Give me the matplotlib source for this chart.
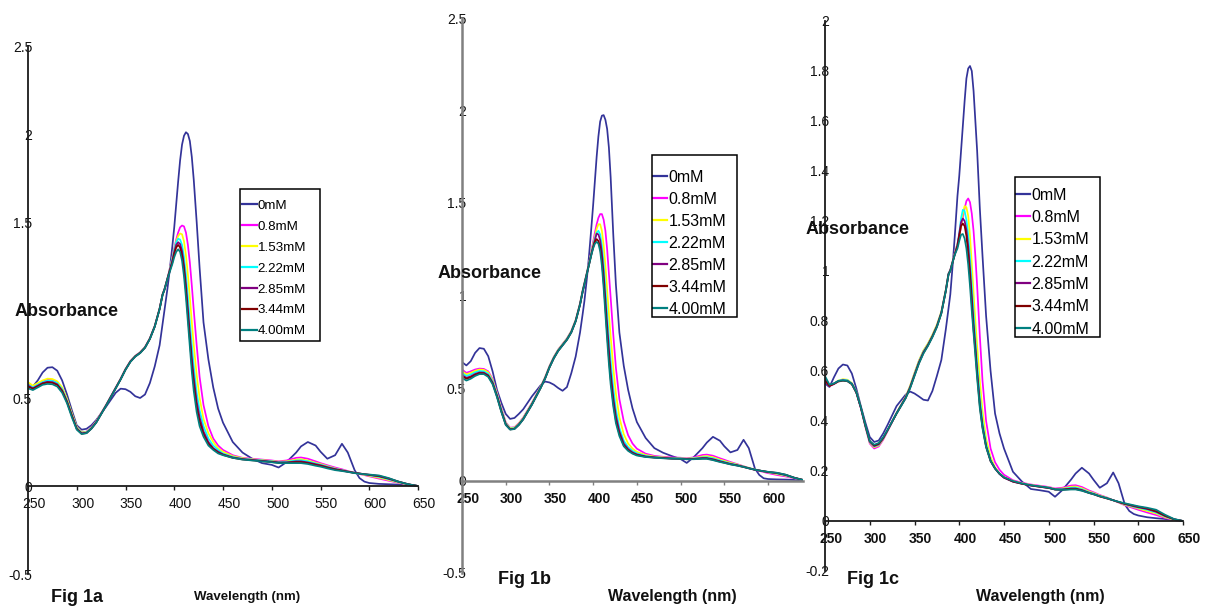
import matplotlib
matplotlib.use('Agg')
import matplotlib.pyplot as plt
import matplotlib.transforms as mtrans
from matplotlib.lines import Line2D
from matplotlib.patches import Rectangle

plt.rcParams['font.family'] = ['Liberation Sans', 'DejaVu Sans']

# ---------------- data ----------------
wavelength = [250, 255, 260, 265, 270, 275, 280, 285, 290, 295,
              300, 305, 310, 315, 320, 330, 340, 345, 350, 355,
              360, 365, 370, 375, 380, 385, 388, 390, 393, 395,
              398, 400, 402, 404, 406, 408, 410, 412, 414, 416,
              418, 420, 423, 426, 430, 435, 440, 445, 450, 460,
              470, 480, 490, 500, 507, 515, 525, 530, 537, 545,
              550, 557, 565, 572, 578, 585, 590, 595, 600, 610,
              620, 630, 640, 650]

series_labels = ['0mM', '0.8mM', '1.53mM', '2.22mM', '2.85mM', '3.44mM', '4.00mM']

# ---- Fig 1a ----
a_0mM = [0.570, 0.565, 0.600, 0.645, 0.672, 0.675, 0.655, 0.600, 0.520, 0.430,
         0.345, 0.320, 0.325, 0.345, 0.375, 0.450, 0.530, 0.553, 0.550, 0.535,
         0.510, 0.500, 0.520, 0.585, 0.680, 0.800, 0.920, 1.000, 1.120, 1.210,
         1.360, 1.470, 1.600, 1.730, 1.850, 1.940, 1.990, 2.010, 2.000, 1.960,
         1.870, 1.740, 1.500, 1.240, 0.930, 0.720, 0.560, 0.440, 0.360, 0.250,
         0.190, 0.155, 0.130, 0.120, 0.105, 0.135, 0.190, 0.225, 0.250, 0.230,
         0.195, 0.155, 0.175, 0.240, 0.190, 0.090, 0.045, 0.025, 0.017, 0.012,
         0.010, 0.008, 0.004, 0.000]
a_0_8mM = [0.580, 0.565, 0.580, 0.595, 0.603, 0.602, 0.590, 0.555, 0.490, 0.410,
           0.335, 0.305, 0.309, 0.333, 0.368, 0.460, 0.560, 0.610, 0.665, 0.710,
           0.740, 0.760, 0.790, 0.840, 0.910, 1.010, 1.090, 1.120, 1.180, 1.225,
           1.300, 1.350, 1.400, 1.440, 1.470, 1.480, 1.475, 1.440, 1.370, 1.270,
           1.140, 1.000, 0.800, 0.620, 0.460, 0.340, 0.270, 0.230, 0.205, 0.175,
           0.160, 0.155, 0.150, 0.145, 0.140, 0.145, 0.160, 0.162, 0.155, 0.140,
           0.130, 0.118, 0.105, 0.095, 0.085, 0.075, 0.068, 0.062, 0.055, 0.042,
           0.030, 0.018, 0.008, 0.000]
a_1_53mM = [0.590, 0.570, 0.585, 0.600, 0.610, 0.608, 0.595, 0.560, 0.495, 0.412,
            0.335, 0.305, 0.307, 0.331, 0.366, 0.459, 0.559, 0.609, 0.664, 0.709,
            0.739, 0.759, 0.789, 0.839, 0.909, 1.009, 1.089, 1.119, 1.179, 1.222,
            1.295, 1.345, 1.390, 1.420, 1.435, 1.430, 1.390, 1.310, 1.200, 1.070,
            0.930, 0.800, 0.630, 0.500, 0.380, 0.300, 0.250, 0.215, 0.195, 0.170,
            0.158, 0.152, 0.147, 0.142, 0.138, 0.140, 0.150, 0.152, 0.145, 0.132,
            0.125, 0.113, 0.100, 0.091, 0.083, 0.075, 0.069, 0.064, 0.058, 0.047,
            0.034, 0.020, 0.008, 0.000]
a_2_22mM = [0.575, 0.560, 0.575, 0.590, 0.598, 0.597, 0.585, 0.550, 0.485, 0.405,
            0.330, 0.302, 0.305, 0.329, 0.364, 0.458, 0.558, 0.608, 0.663, 0.708,
            0.738, 0.758, 0.788, 0.838, 0.908, 1.008, 1.088, 1.118, 1.178, 1.220,
            1.290, 1.340, 1.385, 1.405, 1.400, 1.370, 1.300, 1.200, 1.070, 0.930,
            0.800, 0.680, 0.530, 0.430, 0.340, 0.270, 0.230, 0.205, 0.185, 0.165,
            0.155, 0.150, 0.145, 0.140, 0.136, 0.137, 0.145, 0.146, 0.140, 0.128,
            0.121, 0.110, 0.098, 0.090, 0.082, 0.075, 0.070, 0.066, 0.061, 0.052,
            0.038, 0.022, 0.009, 0.000]
a_2_85mM = [0.570, 0.555, 0.570, 0.585, 0.592, 0.590, 0.578, 0.543, 0.480, 0.400,
            0.326, 0.299, 0.302, 0.327, 0.362, 0.457, 0.557, 0.607, 0.662, 0.707,
            0.737, 0.757, 0.787, 0.837, 0.907, 1.007, 1.087, 1.117, 1.177, 1.218,
            1.280, 1.330, 1.370, 1.385, 1.375, 1.335, 1.255, 1.145, 1.005, 0.865,
            0.730, 0.620, 0.480, 0.390, 0.310, 0.250, 0.215, 0.195, 0.180, 0.162,
            0.153, 0.148, 0.143, 0.138, 0.134, 0.134, 0.140, 0.140, 0.134, 0.124,
            0.118, 0.107, 0.096, 0.089, 0.082, 0.075, 0.071, 0.067, 0.063, 0.055,
            0.041, 0.024, 0.010, 0.000]
a_3_44mM = [0.565, 0.552, 0.567, 0.582, 0.588, 0.586, 0.574, 0.540, 0.477, 0.398,
            0.324, 0.297, 0.301, 0.326, 0.361, 0.456, 0.556, 0.606, 0.661, 0.706,
            0.736, 0.756, 0.786, 0.836, 0.906, 1.006, 1.086, 1.116, 1.176, 1.215,
            1.270, 1.320, 1.355, 1.370, 1.355, 1.310, 1.230, 1.110, 0.970, 0.830,
            0.690, 0.580, 0.450, 0.365, 0.295, 0.240, 0.210, 0.190, 0.177, 0.160,
            0.151, 0.146, 0.141, 0.136, 0.132, 0.132, 0.136, 0.136, 0.130, 0.120,
            0.115, 0.104, 0.094, 0.087, 0.081, 0.074, 0.071, 0.067, 0.064, 0.057,
            0.043, 0.025, 0.010, 0.000]
a_4_00mM = [0.555, 0.545, 0.560, 0.575, 0.580, 0.578, 0.565, 0.530, 0.470, 0.390,
            0.320, 0.295, 0.300, 0.325, 0.360, 0.455, 0.555, 0.605, 0.660, 0.705,
            0.735, 0.755, 0.785, 0.835, 0.905, 1.005, 1.085, 1.115, 1.175, 1.210,
            1.260, 1.300, 1.330, 1.345, 1.330, 1.280, 1.190, 1.070, 0.930, 0.790,
            0.650, 0.540, 0.420, 0.340, 0.280, 0.230, 0.205, 0.185, 0.175, 0.160,
            0.150, 0.145, 0.140, 0.135, 0.130, 0.130, 0.130, 0.130, 0.125, 0.115,
            0.110, 0.100, 0.090, 0.085, 0.080, 0.073, 0.070, 0.067, 0.065, 0.060,
            0.045, 0.025, 0.010, 0.000]

# ---- Fig 1b ----
b_0mM = [0.640, 0.622, 0.645, 0.690, 0.716, 0.712, 0.672, 0.590, 0.490, 0.420,
         0.360, 0.333, 0.338, 0.360, 0.385, 0.455, 0.515, 0.535, 0.530, 0.518,
         0.500, 0.485, 0.505, 0.580, 0.670, 0.800, 0.900, 0.970, 1.100, 1.200,
         1.370, 1.490, 1.620, 1.750, 1.860, 1.940, 1.972, 1.975, 1.950, 1.900,
         1.800, 1.640, 1.330, 1.060, 0.800, 0.620, 0.490, 0.390, 0.316, 0.230,
         0.175, 0.150, 0.132, 0.116, 0.095, 0.126, 0.175, 0.205, 0.236, 0.215,
         0.185, 0.152, 0.165, 0.220, 0.175, 0.065, 0.030, 0.012, 0.008, 0.006,
         0.005, 0.003, 0.001, 0.000]
b_0_8mM = [0.600, 0.582, 0.590, 0.600, 0.605, 0.603, 0.590, 0.548, 0.475, 0.390,
           0.315, 0.285, 0.288, 0.310, 0.340, 0.420, 0.508, 0.558, 0.618, 0.668,
           0.708, 0.738, 0.768, 0.808, 0.868, 0.958, 1.028, 1.068, 1.128, 1.170,
           1.240, 1.290, 1.340, 1.385, 1.420, 1.440, 1.440, 1.410, 1.350, 1.250,
           1.120, 0.990, 0.790, 0.610, 0.440, 0.320, 0.245, 0.200, 0.172, 0.145,
           0.133, 0.128, 0.125, 0.123, 0.120, 0.125, 0.138, 0.140, 0.134, 0.120,
           0.112, 0.100, 0.088, 0.077, 0.068, 0.058, 0.052, 0.046, 0.040, 0.030,
           0.022, 0.012, 0.003, 0.000]
b_1_53mM = [0.590, 0.574, 0.582, 0.593, 0.600, 0.598, 0.585, 0.543, 0.470, 0.386,
            0.312, 0.283, 0.286, 0.308, 0.338, 0.418, 0.507, 0.557, 0.617, 0.667,
            0.707, 0.737, 0.767, 0.807, 0.867, 0.957, 1.027, 1.067, 1.127, 1.168,
            1.235, 1.280, 1.320, 1.360, 1.385, 1.385, 1.350, 1.270, 1.160, 1.030,
            0.900, 0.780, 0.610, 0.470, 0.340, 0.250, 0.200, 0.172, 0.155, 0.138,
            0.129, 0.125, 0.122, 0.120, 0.118, 0.121, 0.130, 0.132, 0.126, 0.113,
            0.106, 0.096, 0.086, 0.076, 0.068, 0.059, 0.054, 0.049, 0.044, 0.035,
            0.026, 0.014, 0.003, 0.000]
b_2_22mM = [0.580, 0.565, 0.573, 0.585, 0.592, 0.590, 0.577, 0.536, 0.465, 0.382,
            0.309, 0.280, 0.283, 0.305, 0.335, 0.415, 0.505, 0.555, 0.615, 0.665,
            0.705, 0.735, 0.765, 0.805, 0.865, 0.955, 1.025, 1.065, 1.125, 1.166,
            1.230, 1.270, 1.310, 1.340, 1.350, 1.330, 1.270, 1.170, 1.040, 0.900,
            0.770, 0.650, 0.500, 0.385, 0.285, 0.215, 0.180, 0.160, 0.147, 0.133,
            0.126, 0.123, 0.120, 0.119, 0.117, 0.119, 0.125, 0.126, 0.120, 0.108,
            0.101, 0.092, 0.084, 0.075, 0.067, 0.059, 0.054, 0.050, 0.045, 0.038,
            0.028, 0.014, 0.003, 0.000]
b_2_85mM = [0.570, 0.555, 0.563, 0.576, 0.584, 0.583, 0.569, 0.529, 0.458, 0.376,
            0.305, 0.277, 0.280, 0.302, 0.332, 0.412, 0.502, 0.552, 0.612, 0.662,
            0.702, 0.732, 0.762, 0.802, 0.862, 0.952, 1.022, 1.062, 1.122, 1.163,
            1.225, 1.265, 1.300, 1.335, 1.330, 1.300, 1.230, 1.120, 0.980, 0.840,
            0.710, 0.590, 0.450, 0.350, 0.265, 0.200, 0.170, 0.152, 0.141, 0.130,
            0.125, 0.122, 0.119, 0.118, 0.116, 0.117, 0.121, 0.121, 0.115, 0.104,
            0.098, 0.089, 0.082, 0.074, 0.066, 0.058, 0.054, 0.050, 0.046, 0.040,
            0.030, 0.015, 0.003, 0.000]
b_3_44mM = [0.565, 0.550, 0.558, 0.571, 0.580, 0.579, 0.565, 0.525, 0.455, 0.373,
            0.303, 0.276, 0.279, 0.301, 0.331, 0.411, 0.501, 0.551, 0.611, 0.661,
            0.701, 0.731, 0.761, 0.801, 0.861, 0.951, 1.021, 1.061, 1.121, 1.161,
            1.222, 1.260, 1.290, 1.305, 1.295, 1.260, 1.190, 1.075, 0.935, 0.795,
            0.665, 0.550, 0.420, 0.325, 0.250, 0.190, 0.164, 0.148, 0.138, 0.128,
            0.124, 0.121, 0.118, 0.117, 0.115, 0.116, 0.119, 0.119, 0.112, 0.102,
            0.096, 0.088, 0.081, 0.073, 0.066, 0.058, 0.054, 0.050, 0.046, 0.041,
            0.031, 0.015, 0.003, 0.000]
b_4_00mM = [0.555, 0.540, 0.550, 0.565, 0.575, 0.575, 0.560, 0.520, 0.450, 0.370,
            0.300, 0.275, 0.278, 0.300, 0.330, 0.410, 0.500, 0.550, 0.610, 0.660,
            0.700, 0.730, 0.760, 0.800, 0.860, 0.950, 1.020, 1.060, 1.120, 1.160,
            1.220, 1.255, 1.280, 1.290, 1.280, 1.240, 1.160, 1.040, 0.900, 0.760,
            0.630, 0.520, 0.400, 0.310, 0.240, 0.185, 0.160, 0.145, 0.135, 0.127,
            0.123, 0.120, 0.118, 0.117, 0.115, 0.115, 0.117, 0.117, 0.110, 0.100,
            0.095, 0.087, 0.080, 0.073, 0.066, 0.058, 0.054, 0.050, 0.047, 0.042,
            0.032, 0.015, 0.003, 0.000]

# ---- Fig 1c ----
c_0mM = [0.550, 0.536, 0.575, 0.610, 0.626, 0.622, 0.590, 0.530, 0.460, 0.395,
         0.336, 0.316, 0.322, 0.350, 0.385, 0.460, 0.505, 0.518, 0.510, 0.498,
         0.485, 0.482, 0.520, 0.580, 0.644, 0.767, 0.850, 0.906, 1.040, 1.140,
         1.300, 1.380, 1.480, 1.580, 1.680, 1.770, 1.810, 1.820, 1.800, 1.720,
         1.600, 1.480, 1.250, 1.060, 0.820, 0.600, 0.430, 0.350, 0.290, 0.197,
         0.158, 0.128, 0.123, 0.117, 0.097, 0.123, 0.166, 0.190, 0.213, 0.190,
         0.165, 0.133, 0.151, 0.194, 0.151, 0.066, 0.040, 0.028, 0.022, 0.015,
         0.011, 0.008, 0.004, 0.000]
c_0_8mM = [0.560, 0.540, 0.548, 0.560, 0.565, 0.563, 0.550, 0.515, 0.452, 0.378,
           0.310, 0.290, 0.298, 0.325, 0.360, 0.432, 0.495, 0.538, 0.590, 0.640,
           0.680, 0.708, 0.742, 0.782, 0.836, 0.925, 0.990, 1.005, 1.045, 1.072,
           1.110, 1.140, 1.175, 1.215, 1.250, 1.280, 1.290, 1.275, 1.230, 1.160,
           1.060, 0.940, 0.740, 0.560, 0.400, 0.290, 0.235, 0.205, 0.185, 0.163,
           0.153, 0.146, 0.141, 0.136, 0.130, 0.133, 0.142, 0.143, 0.136, 0.122,
           0.115, 0.104, 0.094, 0.083, 0.074, 0.063, 0.057, 0.051, 0.045, 0.034,
           0.024, 0.012, 0.004, 0.000]
c_1_53mM = [0.565, 0.542, 0.550, 0.562, 0.567, 0.565, 0.552, 0.517, 0.455, 0.380,
            0.314, 0.295, 0.302, 0.328, 0.362, 0.433, 0.496, 0.540, 0.592, 0.642,
            0.682, 0.710, 0.745, 0.785, 0.838, 0.926, 0.990, 1.004, 1.044, 1.070,
            1.108, 1.140, 1.180, 1.230, 1.260, 1.255, 1.220, 1.140, 1.030, 0.910,
            0.800, 0.700, 0.560, 0.440, 0.330, 0.255, 0.215, 0.190, 0.176, 0.160,
            0.151, 0.144, 0.139, 0.134, 0.128, 0.130, 0.137, 0.138, 0.131, 0.118,
            0.112, 0.102, 0.093, 0.083, 0.075, 0.065, 0.060, 0.055, 0.050, 0.040,
            0.030, 0.015, 0.005, 0.000]
c_2_22mM = [0.570, 0.543, 0.550, 0.561, 0.565, 0.563, 0.550, 0.516, 0.455, 0.382,
            0.316, 0.298, 0.305, 0.330, 0.363, 0.432, 0.494, 0.536, 0.588, 0.638,
            0.678, 0.706, 0.741, 0.781, 0.835, 0.924, 0.990, 1.003, 1.042, 1.068,
            1.105, 1.150, 1.210, 1.245, 1.240, 1.205, 1.145, 1.055, 0.945, 0.835,
            0.730, 0.630, 0.500, 0.400, 0.310, 0.245, 0.210, 0.188, 0.174, 0.158,
            0.150, 0.143, 0.138, 0.133, 0.127, 0.128, 0.133, 0.134, 0.127, 0.115,
            0.110, 0.100, 0.092, 0.083, 0.076, 0.067, 0.062, 0.057, 0.053, 0.045,
            0.034, 0.018, 0.006, 0.000]
c_2_85mM = [0.565, 0.542, 0.550, 0.560, 0.563, 0.561, 0.549, 0.515, 0.455, 0.383,
            0.318, 0.300, 0.307, 0.331, 0.364, 0.431, 0.493, 0.534, 0.585, 0.635,
            0.675, 0.704, 0.739, 0.779, 0.833, 0.922, 0.988, 1.002, 1.041, 1.067,
            1.102, 1.150, 1.195, 1.210, 1.200, 1.165, 1.100, 1.010, 0.900, 0.790,
            0.700, 0.600, 0.470, 0.380, 0.300, 0.240, 0.210, 0.188, 0.173, 0.157,
            0.149, 0.142, 0.137, 0.132, 0.126, 0.126, 0.130, 0.130, 0.124, 0.113,
            0.108, 0.099, 0.091, 0.083, 0.076, 0.068, 0.064, 0.059, 0.055, 0.048,
            0.037, 0.020, 0.007, 0.000]
c_3_44mM = [0.562, 0.540, 0.548, 0.558, 0.561, 0.559, 0.547, 0.513, 0.454, 0.383,
            0.319, 0.302, 0.309, 0.332, 0.364, 0.430, 0.491, 0.532, 0.582, 0.632,
            0.672, 0.702, 0.737, 0.777, 0.831, 0.921, 0.986, 1.001, 1.040, 1.066,
            1.100, 1.140, 1.180, 1.190, 1.180, 1.140, 1.070, 0.980, 0.870, 0.765,
            0.680, 0.585, 0.460, 0.375, 0.297, 0.240, 0.210, 0.189, 0.174, 0.158,
            0.149, 0.142, 0.137, 0.132, 0.126, 0.125, 0.128, 0.128, 0.122, 0.112,
            0.107, 0.098, 0.090, 0.083, 0.076, 0.069, 0.065, 0.061, 0.057, 0.050,
            0.039, 0.021, 0.007, 0.000]
c_4_00mM = [0.580, 0.545, 0.550, 0.560, 0.562, 0.560, 0.548, 0.515, 0.455, 0.385,
            0.320, 0.305, 0.312, 0.335, 0.365, 0.430, 0.490, 0.530, 0.580, 0.630,
            0.670, 0.700, 0.735, 0.775, 0.830, 0.920, 0.985, 1.000, 1.040, 1.065,
            1.090, 1.120, 1.145, 1.148, 1.130, 1.090, 1.025, 0.940, 0.840, 0.750,
            0.660, 0.570, 0.450, 0.370, 0.295, 0.240, 0.210, 0.190, 0.175, 0.160,
            0.150, 0.143, 0.138, 0.133, 0.126, 0.124, 0.126, 0.126, 0.121, 0.112,
            0.107, 0.099, 0.091, 0.083, 0.077, 0.071, 0.067, 0.063, 0.059, 0.053,
            0.045, 0.025, 0.008, 0.000]

series_colors = ['#333399', '#ff00ff', '#ffff00', '#00ffff', '#800080', '#800000', '#008080']

# ---------------- figure ----------------
W, H = 1205, 607
fig = plt.figure(figsize=(W / 100, H / 100), dpi=100)


def fx(px):
    return px / W


def fy(py):
    return 1 - py / H


panels = [
    dict(rect=(28, 46, 418, 574), series=[a_0mM, a_0_8mM, a_1_53mM, a_2_22mM, a_2_85mM, a_3_44mM, a_4_00mM],
         xlim=(250, 650), xticks=[250, 300, 350, 400, 450, 500, 550, 600, 650],
         ylim=(-0.5, 2.5), yticks=[-0.5, 0, 0.5, 1, 1.5, 2, 2.5],
         yticklabels=['-0.5', '0', '0.5', '', '1.5', '2', '2.5'],
         spine='#1a1a1a', spine_w=1.3, xweight='normal',
         box=(240, 189, 320, 341), leg_anchor=(242, 199.8), leg_fs=9.6, leg_ls=0.64,
         leg_hl=1.1, leg_htp=0.08,
         absorb=(67, 311), fig=(77, 597), figtxt='Fig 1a', wave=(247, 597), wave_fs=9.5),
    dict(rect=(462, 18, 803, 573), series=[b_0mM, b_0_8mM, b_1_53mM, b_2_22mM, b_2_85mM, b_3_44mM, b_4_00mM],
         xlim=(250, 640), xticks=[250, 300, 350, 400, 450, 500, 550, 600],
         ylim=(-0.5, 2.5), yticks=[-0.5, 0, 0.5, 1, 1.5, 2, 2.5],
         yticklabels=['-0.5', '0', '0.5', '1', '1.5', '2', '2.5'],
         spine='#808080', spine_w=1.8, xweight='bold',
         box=(652, 155, 737, 317), leg_anchor=(653, 169.6), leg_fs=11.5, leg_ls=0.44,
         leg_hl=0.9, leg_htp=0.06,
         absorb=(490, 273), fig=(525, 580), figtxt='Fig 1b', wave=(672, 597), wave_fs=11.5),
    dict(rect=(825, 21, 1183, 571), series=[c_0mM, c_0_8mM, c_1_53mM, c_2_22mM, c_2_85mM, c_3_44mM, c_4_00mM],
         xlim=(250, 650), xticks=[250, 300, 350, 400, 450, 500, 550, 600, 650],
         ylim=(-0.2, 2.0), yticks=[-0.2, 0, 0.2, 0.4, 0.6, 0.8, 1.0, 1.2, 1.4, 1.6, 1.8, 2.0],
         yticklabels=['-0.2', '0', '0.2', '0.4', '0.6', '0.8', '1', '1.2', '1.4', '1.6', '1.8', '2'],
         spine='#1a1a1a', spine_w=1.3, xweight='bold',
         box=(1015, 177, 1100, 337), leg_anchor=(1016, 187.6), leg_fs=11.5, leg_ls=0.46,
         leg_hl=0.9, leg_htp=0.06,
         absorb=(858, 229), fig=(873, 580), figtxt='Fig 1c', wave=(1040, 597), wave_fs=11.5),
]

for p in panels:
    x0, y0, x1, y1 = p['rect']
    ax = fig.add_axes([fx(x0), fy(y1), (x1 - x0) / W, (y1 - y0) / H])
    ax.set_facecolor('none')
    for vals, col in zip(p['series'], series_colors):
        ax.plot(wavelength, vals, color=col, lw=1.25, solid_joinstyle='round')
    ax.set_xlim(*p['xlim'])
    ax.set_ylim(*p['ylim'])
    for s in ('top', 'right'):
        ax.spines[s].set_visible(False)
    ax.spines['bottom'].set_position(('data', 0))
    for s in ('left', 'bottom'):
        ax.spines[s].set_color(p['spine'])
        ax.spines[s].set_linewidth(p['spine_w'])
    ax.set_xticks(p['xticks'])
    ax.set_xticklabels([str(t) for t in p['xticks']], fontsize=10, fontweight=p['xweight'], color='#111111')
    ax.set_yticks(p['yticks'])
    ax.set_yticklabels(p['yticklabels'], fontsize=10, color='#111111')
    ax.tick_params(axis='x', direction='out', length=3, width=1, color=p['spine'], pad=5)
    ax.tick_params(axis='y', length=0, pad=-3)
    shift = mtrans.ScaledTranslation(6 / 100, 0, fig.dpi_scale_trans)
    for lab in ax.get_xticklabels():
        lab.set_transform(lab.get_transform() + shift)

    # legend (frame drawn separately to match the taller top padding)
    handles = [Line2D([], [], color=c, lw=1.6) for c in series_colors]
    ax.legend(handles, series_labels, loc='upper left',
              bbox_to_anchor=(fx(p['leg_anchor'][0]), fy(p['leg_anchor'][1])),
              bbox_transform=fig.transFigure, frameon=False, fontsize=p['leg_fs'],
              borderpad=0, handlelength=p['leg_hl'], handletextpad=p['leg_htp'],
              labelspacing=p['leg_ls'], borderaxespad=0)
    bx0, by0, bx1, by1 = p['box']
    fig.add_artist(Rectangle((fx(bx0), fy(by1)), (bx1 - bx0) / W, (by1 - by0) / H,
                             transform=fig.transFigure, fill=False,
                             edgecolor='black', lw=1.1))

    fig.text(fx(p['absorb'][0]), fy(p['absorb'][1]), 'Absorbance', fontsize=13,
             fontweight='bold', ha='center', va='center', color='#111111')
    fig.text(fx(p['fig'][0]), fy(p['fig'][1]), p['figtxt'], fontsize=13,
             fontweight='bold', ha='center', va='center', color='#111111')
    fig.text(fx(p['wave'][0]), fy(p['wave'][1]), 'Wavelength (nm)', fontsize=p['wave_fs'],
             fontweight='bold', ha='center', va='center', color='#111111')

fig.savefig('out.png', dpi=100, facecolor='white')
